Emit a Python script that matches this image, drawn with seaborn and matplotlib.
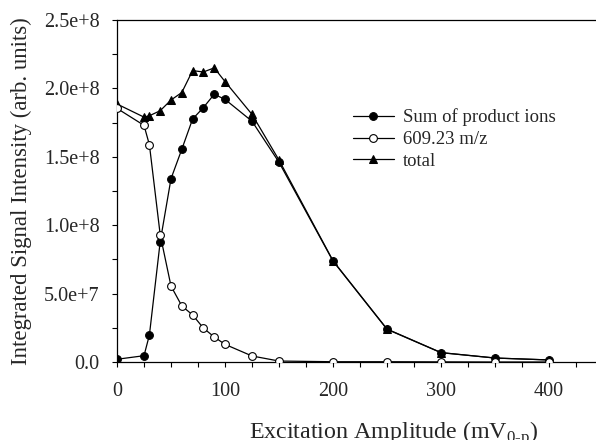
import numpy as np
import pandas as pd
import matplotlib
matplotlib.use("Agg")
import matplotlib.pyplot as plt
import matplotlib.ticker as mticker
import seaborn as sns

# dados
amplitude = [0, 25, 30, 40, 50, 60, 70, 80, 90, 100, 125, 150, 200, 250, 300, 350, 400]
soma_produtos = [2.0e6, 4.6e6, 19.7e6, 88e6, 134e6, 155.5e6, 177.6e6, 186e6, 195.7e6, 192e6,
                 176e6, 146e6, 73.8e6, 23.9e6, 6.8e6, 2.9e6, 1.5e6]
ion_609 = [185.4e6, 173e6, 158.8e6, 93e6, 55.5e6, 41e6, 34.4e6, 24.8e6, 18.3e6, 12.9e6,
           4.4e6, 0.7e6, 0.2e6, 0.2e6, 0.1e6, 0.0, 0.0]
total = [188.6e6, 179e6, 180e6, 183.7e6, 191.5e6, 197e6, 213e6, 212e6, 215e6, 205e6,
         181e6, 147.6e6, 74e6, 24.1e6, 6.9e6, 2.9e6, 1.5e6]

df = pd.DataFrame({
    'amp': amplitude,
    'soma': soma_produtos,
    'ion': ion_609,
    'total': total,
})

# estilo
sns.set_style("ticks")
plt.rcParams['font.family'] = ['Liberation Serif', 'DejaVu Serif']
plt.rcParams['mathtext.fontset'] = 'custom'
plt.rcParams['mathtext.rm'] = 'Liberation Serif'

fig = plt.figure(figsize=(5.96, 4.40), dpi=100)
ax = fig.add_axes([117 / 596, 78 / 440, 1 - 117 / 596, 342 / 440])

lw = 0.9
ms = 5.6
sns.lineplot(data=df, x='amp', y='total', ax=ax, color='black', lw=lw, marker='^',
             markersize=ms + 0.6, markerfacecolor='black', markeredgecolor='black',
             estimator=None, sort=False, label='total', zorder=2)
sns.lineplot(data=df, x='amp', y='soma', ax=ax, color='black', lw=lw, marker='o',
             markersize=ms, markerfacecolor='black', markeredgecolor='black',
             estimator=None, sort=False, label='Sum of product ions', zorder=3)
sns.lineplot(data=df, x='amp', y='ion', ax=ax, color='black', lw=lw, marker='o',
             markersize=ms, markerfacecolor='white', markeredgecolor='black',
             markeredgewidth=0.8, estimator=None, sort=False, label='609.23 m/z', zorder=4)

ax.set_xlim(0, 443.5)
ax.set_ylim(0, 2.5e8)
ax.xaxis.set_major_locator(mticker.MultipleLocator(100))
ax.xaxis.set_minor_locator(mticker.MultipleLocator(25))
ax.yaxis.set_major_locator(mticker.MultipleLocator(5e7))
ax.yaxis.set_minor_locator(mticker.MultipleLocator(2.5e7))


def fmt(v, pos):
    if v == 0:
        return '0.0'
    m, e = f"{v:.1e}".split('e')
    return f"{m}e+{int(e)}"


ax.yaxis.set_major_formatter(mticker.FuncFormatter(fmt))
ax.tick_params(which='both', direction='out', length=3.5, width=0.8, color='black')
ax.tick_params(axis='y', labelsize=14.5, pad=9)
ax.tick_params(axis='x', labelsize=14.5, pad=11)

for s in ['left', 'bottom', 'top']:
    ax.spines[s].set_linewidth(0.9)
    ax.spines[s].set_color('black')
ax.spines['right'].set_visible(False)

ax.set_xlabel(r'Excitation Amplitude (mV$_{\text{0-p}}$)', fontsize=17.3)
ax.set_ylabel('Integrated Signal Intensity (arb. units)', fontsize=16.4)
ax.xaxis.set_label_coords((394 - 117) / 479, -57 / 342)
ax.yaxis.set_label_coords(-85 / 479, 0.5)

# legenda na ordem do original
h, l = ax.get_legend_handles_labels()
ordem = [1, 2, 0]
ax.legend([h[i] for i in ordem], [l[i] for i in ordem], loc='upper left',
          bbox_to_anchor=(228 / 479, 1 - 81 / 342), frameon=False, fontsize=13.5,
          handlelength=2.2, handletextpad=0.5, labelspacing=0.25, borderaxespad=0)

fig.savefig('out.png', dpi=100)
